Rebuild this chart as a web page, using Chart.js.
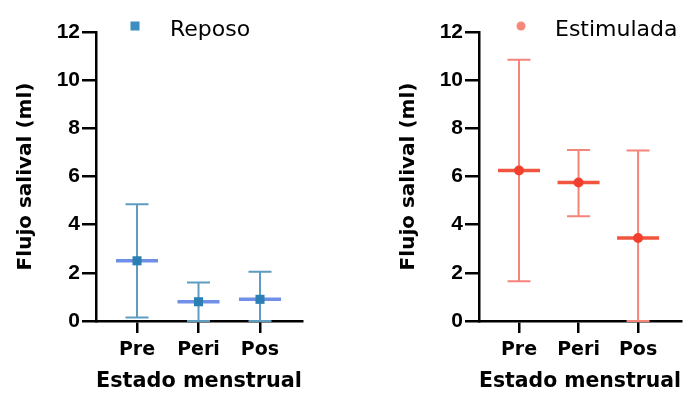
<!DOCTYPE html>
<html lang="es">
<head>
<meta charset="utf-8">
<title>Flujo salival</title>
<script src="https://cdn.jsdelivr.net/npm/chart.js@4.4.1/dist/chart.umd.min.js"></script>
<style>
  body { margin: 0; background: #fff; }
  .fila { display: flex; width: 686px; height: 394px; }
  canvas { display: block; }
</style>
</head>
<body>
<div class="fila">
  <canvas id="graficoReposo" width="343" height="394"></canvas>
  <canvas id="graficoEstimulada" width="343" height="394"></canvas>
</div>
<script>
// Datos (media y barras de error)
const categorias = ["Pre", "Peri", "Pos"];
const ticksY = [0, 2, 4, 6, 8, 10, 12];

const reposoMedia = [2.5, 0.8, 0.9];
const reposoMin = [0.15, 0, 0];
const reposoMax = [4.85, 1.6, 2.05];

const estimuladaMedia = [6.25, 5.75, 3.45];
const estimuladaMin = [1.65, 4.35, 0];
const estimuladaMax = [10.85, 7.1, 7.08];

const FUENTE_PALABRAS = "'DejaVu Sans', sans-serif";
const FUENTE_NUMEROS = "'Liberation Sans', Arial, sans-serif";

// =========================================
// Plugin: barras de error + linea de la media
// =========================================
const barrasError = {
    id: "barrasError",
    beforeDatasetsDraw(chart, args, opts) {
        const ctx = chart.ctx;
        const sx = chart.scales.x, sy = chart.scales.y;
        ctx.save();
        opts.media.forEach((m, i) => {
            const px = sx.getPixelForValue(i);
            const yMin = sy.getPixelForValue(opts.min[i]);
            const yMax = sy.getPixelForValue(opts.max[i]);
            ctx.strokeStyle = opts.colorBarra;
            ctx.lineWidth = 2;
            ctx.beginPath();
            ctx.moveTo(px, yMin); ctx.lineTo(px, yMax);
            ctx.moveTo(px - opts.tapa, yMin); ctx.lineTo(px + opts.tapa, yMin);
            ctx.moveTo(px - opts.tapa, yMax); ctx.lineTo(px + opts.tapa, yMax);
            ctx.stroke();

            const pm = sy.getPixelForValue(m);
            ctx.strokeStyle = opts.colorMedia;
            ctx.lineWidth = 3.5;
            ctx.beginPath();
            ctx.moveTo(px - opts.anchoMedia, pm); ctx.lineTo(px + opts.anchoMedia, pm);
            ctx.stroke();
        });
        ctx.restore();
    }
};

// =========================================
// Plugin: leyenda arriba (marcador + nombre de la serie)
// =========================================
const leyenda = {
    id: "leyenda",
    afterDraw(chart, args, opts) {
        const ctx = chart.ctx;
        const ds = chart.data.datasets[0];
        ctx.save();
        ctx.fillStyle = opts.color;
        if (opts.forma === "rect") {
            ctx.fillRect(opts.x - 4.5, opts.y - 4.5, 9, 9);
        } else {
            ctx.beginPath();
            ctx.arc(opts.x, opts.y, 4.5, 0, Math.PI * 2);
            ctx.fill();
        }
        ctx.fillStyle = "#000";
        ctx.font = "22px " + FUENTE_PALABRAS;
        ctx.textBaseline = "alphabetic";
        ctx.fillText(ds.label, opts.textoX, opts.textoY);
        ctx.restore();
    }
};

function crearGrafico(id, etiqueta, media, min, max, estilo) {
    const ctx = document.getElementById(id).getContext("2d");
    return new Chart(ctx, {
        type: "scatter",
        data: {
            datasets: [{
                label: etiqueta,
                data: media.map((v, i) => ({ x: i, y: v })),
                pointStyle: estilo.forma,
                pointRadius: estilo.radio,
                backgroundColor: estilo.colorPunto,
                borderWidth: 0
            }]
        },
        options: {
            responsive: false,
            animation: false,
            devicePixelRatio: 1,
            events: [],
            layout: { padding: estilo.padding },
            plugins: {
                legend: { display: false },
                tooltip: { enabled: false },
                barrasError: {
                    media: media, min: min, max: max,
                    colorBarra: estilo.colorBarra, colorMedia: estilo.colorMedia,
                    tapa: 11.5, anchoMedia: 21
                },
                leyenda: estilo.leyenda
            },
            scales: {
                x: {
                    type: "linear",
                    min: estilo.xMin, max: estilo.xMax,
                    afterBuildTicks: s => { s.ticks = categorias.map((c, i) => ({ value: i })); },
                    afterFit: s => { s.height = 73; },
                    border: { display: true, color: "#000", width: 2.5 },
                    grid: { drawOnChartArea: false, drawTicks: true, tickLength: 12, color: "#000", lineWidth: 2.5 },
                    ticks: {
                        callback: v => categorias[v],
                        color: "#000", padding: 6, autoSkip: false, maxRotation: 0,
                        font: { family: FUENTE_PALABRAS, size: 19, weight: "bold" }
                    },
                    title: {
                        display: true, text: "Estado menstrual", color: "#000",
                        padding: { top: 0, bottom: 0 },
                        font: { family: FUENTE_PALABRAS, size: 21, weight: "bold" }
                    }
                },
                y: {
                    min: 0, max: 12,
                    afterBuildTicks: s => { s.ticks = ticksY.map(v => ({ value: v })); },
                    afterFit: s => { s.width = 96; },
                    border: { display: true, color: "#000", width: 2.5 },
                    grid: { drawOnChartArea: false, drawTicks: true, tickLength: 14, color: "#000", lineWidth: 2.5 },
                    ticks: {
                        color: "#000", padding: 2,
                        font: { family: FUENTE_NUMEROS, size: 21, weight: "bold" }
                    },
                    title: {
                        display: true, text: "Flujo salival (ml)", color: "#000",
                        padding: { top: 14, bottom: 0 },
                        font: { family: FUENTE_PALABRAS, size: 20, weight: "bold" }
                    }
                }
            }
        },
        plugins: [barrasError, leyenda]
    });
}

crearGrafico("graficoReposo", "Reposo", reposoMedia, reposoMin, reposoMax, {
    forma: "rect", radio: 6.4,
    colorPunto: "#2c7fb3", colorBarra: "#5e9cc0", colorMedia: "#6f8fe8",
    xMin: -0.667, xMax: 2.683,
    padding: { top: 32, right: 41, left: 0, bottom: 0 },
    leyenda: { forma: "rect", color: "#3b8dc2", x: 135, y: 26, textoX: 170, textoY: 36 }
});

crearGrafico("graficoEstimulada", "Estimulada", estimuladaMedia, estimuladaMin, estimuladaMax, {
    forma: "circle", radio: 5,
    colorPunto: "#f3402e", colorBarra: "#f5847a", colorMedia: "#f2553f",
    xMin: -0.672, xMax: 2.721,
    padding: { top: 32, right: 1, left: 40, bottom: 0 },
    leyenda: { forma: "circle", color: "#f6887b", x: 178, y: 26, textoX: 212, textoY: 36 }
});
</script>
</body>
</html>
